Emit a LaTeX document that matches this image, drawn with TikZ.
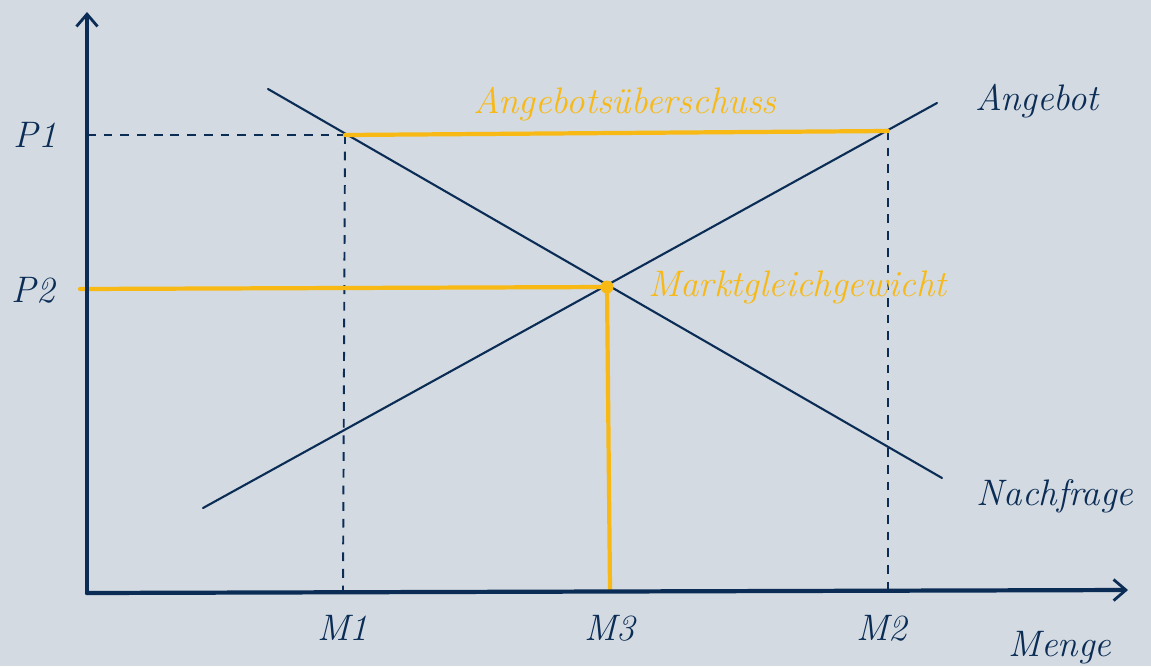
\documentclass[tikz,border=0pt]{standalone}
\usepackage{tikz}
\usetikzlibrary{positioning,arrows.meta,calc}

\definecolor{navy}{HTML}{0B2D55}
\definecolor{gold}{HTML}{F8B914}
\definecolor{bgblue}{HTML}{D3DAE2}

\begin{document}
\begin{tikzpicture}[
  x=0.02cm, y=-0.02cm,
  lbl/.style={font=\fontsize{21}{24}\selectfont\itshape, inner sep=1pt, text=navy},
  goldlbl/.style={lbl, text=gold},
  axis/.style={draw=navy, line width=2.4pt, line cap=round, -{Straight Barb[length=7pt, width=12pt, line width=1.6pt]}},
  curve/.style={draw=navy, line width=1.2pt, line cap=round},
  guide/.style={draw=navy, line width=1.1pt, dash pattern=on 5pt off 4.5pt},
  goldline/.style={draw=gold, line width=2.4pt, line cap=round}
]

% background and frame of the page
\fill[bgblue] (0,0) rectangle (1151,666);
\useasboundingbox (0,0) rectangle (1151,666);

% --- points of the diagram ---
\coordinate (O)     at (87,593);
\coordinate (ytop)  at (87,12);
\coordinate (xend)  at (1128,590);
\coordinate (p1)    at (87,135);
\coordinate (p2)    at (80,289);
\coordinate (dA)    at (268,89);
\coordinate (dB)    at (942,478);
\coordinate (sA)    at (203,508);
\coordinate (sB)    at (937,103);
\coordinate (eq)    at (607,287);
\coordinate (m1top) at (345,135);
\coordinate (m1)    at (343,590);
\coordinate (m2top) at (888,131);
\coordinate (m2)    at (888,590);
\coordinate (m3)    at (610,590);

% --- dashed guides ---
\draw[guide] (p1) -- (m1top);
\draw[guide] (m1top) -- (m1);
\draw[guide] (m2top) -- (m2);

% --- demand and supply ---
\draw[curve] (dA) -- (dB);
\draw[curve] (sA) -- (sB);

% --- gold: surplus, equilibrium price and quantity ---
\draw[goldline] (m1top) -- (m2top);
\draw[goldline] (p2) -- (eq);
\draw[goldline] (eq) -- (m3);
\fill[gold] (eq) circle (6.5);

% --- axes ---
\draw[axis] (O) -- (ytop);
\draw[axis] (O) -- (xend);

% --- labels ---
\node[lbl] (P1) at (35,135) {P1};
\node[lbl] (P2) at (33,290) {P2};
\node[lbl] (M1) at (343,628) {M1};
\node[lbl] (M3) at (610,628) {M3};
\node[lbl] (M2) at (882,628) {M2};
\node[lbl] (menge) at (1060,648) {Menge};
\node[lbl] (angebot) at (1037,101) {Angebot};
\node[lbl] (nachfrage) at (1055,496) {Nachfrage};
\node[goldlbl] (surplus) at (625,104) {Angebotsüberschuss};
\node[goldlbl, anchor=west] (equil) at (646,287) {Marktgleichgewicht};

\end{tikzpicture}
\end{document}
